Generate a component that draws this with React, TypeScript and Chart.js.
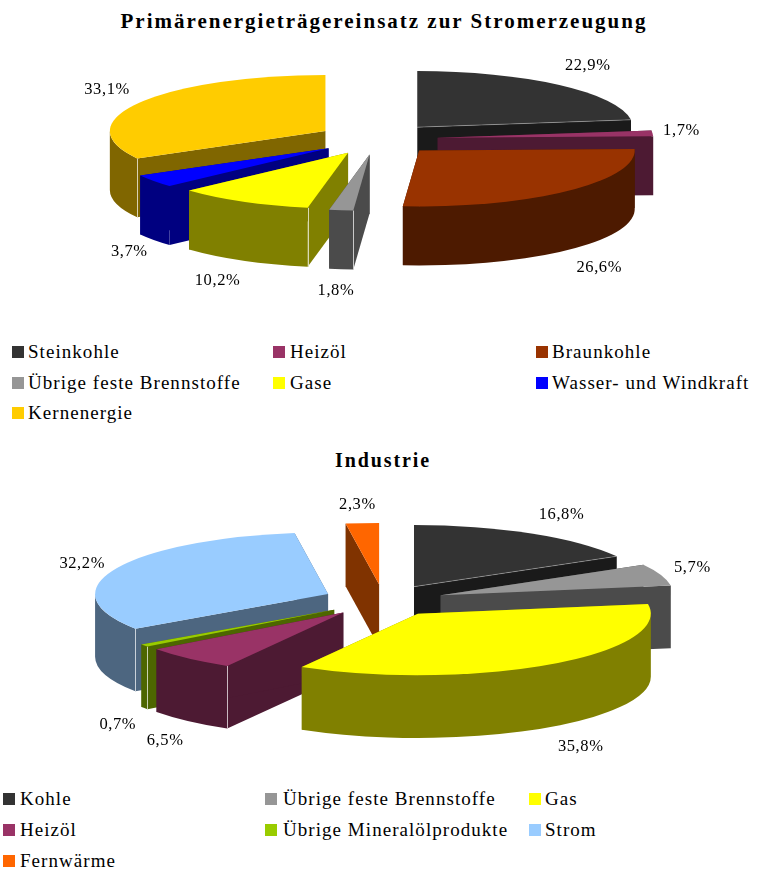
import React, { useEffect, useRef } from "react";
import { Chart, registerables } from "chart.js";

Chart.register(...registerables);

const powerCategories = ["Steinkohle", "Heizöl", "Braunkohle", "Übrige feste Brennstoffe", "Gase", "Wasser- und Windkraft", "Kernenergie"];
const powerValues = [22.9, 1.7, 26.6, 1.8, 10.2, 3.7, 33.1];
const powerColors = ["#333333", "#993366", "#993300", "#969696", "#ffff00", "#0000ff", "#ffcc00"];

const industryCategories = ["Kohle", "Übrige feste Brennstoffe", "Gas", "Heizöl", "Übrige Mineralölprodukte", "Strom", "Fernwärme"];
const industryValues = [16.8, 5.7, 35.8, 6.5, 0.7, 32.2, 2.3];
const industryColors = ["#333333", "#969696", "#ffff00", "#993366", "#99cc00", "#99ccff", "#ff6600"];

const serif = '"Liberation Serif", serif';

const halve = (hex: string) => {
  const n = parseInt(hex.slice(1), 16);
  const c = [(n >> 16) & 255, (n >> 8) & 255, n & 255].map((v) => Math.round(v / 2));
  return `rgb(${c[0]},${c[1]},${c[2]})`;
};

const lighten = (hex: string) => {
  const n = parseInt(hex.slice(1), 16);
  const c = [(n >> 16) & 255, (n >> 8) & 255, n & 255].map((v) => Math.round(v / 2 + (255 - v / 2) * 0.7));
  return `rgb(${c[0]},${c[1]},${c[2]})`;
};

// Draws the pie's arcs as tilted, extruded, exploded wedges with outside value labels.
const pie3d = {
  id: "pie3d",
  beforeDatasetsDraw(chart: any, _args: any, opts: any) {
    const { ctx } = chart;
    const arcs = chart.getDatasetMeta(0).data;
    const values = chart.data.datasets[0].data;
    const geo = arcs.map((el: any, i: number) => {
      const p = el.getProps(["x", "y", "startAngle", "endAngle", "outerRadius"], true);
      const rx = p.outerRadius * opts.scaleX;
      const ry = p.outerRadius * opts.scaleY;
      const mid = (p.startAngle + p.endAngle) / 2;
      const ax = p.x + Math.cos(mid) * rx * opts.explode;
      const ay = p.y + Math.sin(mid) * ry * opts.explode;
      return { i, el, rx, ry, mid, ax, ay, start: p.startAngle, end: p.endAngle, depth: p.outerRadius * opts.depth };
    });
    const order = [...geo].sort((a: any, b: any) => a.ay - b.ay);

    for (const s of order) {
      const face = s.el.options.backgroundColor as string;
      const wall = halve(face);
      ctx.save();
      ctx.fillStyle = wall;
      // radial cut faces
      for (const ang of [s.start, s.end]) {
        const ex = s.ax + Math.cos(ang) * s.rx;
        const ey = s.ay + Math.sin(ang) * s.ry;
        ctx.beginPath();
        ctx.moveTo(s.ax, s.ay);
        ctx.lineTo(ex, ey);
        ctx.lineTo(ex, ey + s.depth);
        ctx.lineTo(s.ax, s.ay + s.depth);
        ctx.closePath();
        ctx.fill();
      }
      // rim, only on the half of the ellipse that faces the viewer
      const from = Math.max(s.start, 0);
      const to = Math.min(s.end, Math.PI);
      if (to > from) {
        ctx.beginPath();
        ctx.ellipse(s.ax, s.ay, s.rx, s.ry, 0, from, to);
        ctx.ellipse(s.ax, s.ay + s.depth, s.rx, s.ry, 0, to, from, true);
        ctx.closePath();
        ctx.fill();
      }
      // light edge where the rim meets the first cut face
      if (s.start > Math.PI / 2 && s.start < Math.PI && !opts.plainCorners.includes(s.i)) {
        const ex = s.ax + Math.cos(s.start) * s.rx;
        const ey = s.ay + Math.sin(s.start) * s.ry;
        ctx.strokeStyle = lighten(face);
        ctx.lineWidth = 1;
        ctx.beginPath();
        ctx.moveTo(Math.round(ex) + 0.5, ey);
        ctx.lineTo(Math.round(ex) + 0.5, ey + s.depth);
        ctx.stroke();
      }
      // top face
      ctx.fillStyle = face;
      ctx.beginPath();
      ctx.moveTo(s.ax, s.ay);
      ctx.ellipse(s.ax, s.ay, s.rx, s.ry, 0, s.start, s.end);
      ctx.closePath();
      ctx.fill();
      // faint highlight along the front cut edge of the dark wedge
      if (opts.litEdges.includes(s.i)) {
        ctx.strokeStyle = "rgba(255,255,255,0.3)";
        ctx.lineWidth = 1;
        ctx.beginPath();
        ctx.moveTo(s.ax, s.ay);
        ctx.lineTo(s.ax + Math.cos(s.end) * s.rx, s.ay + Math.sin(s.end) * s.ry);
        ctx.stroke();
      }
      ctx.restore();
    }

    // value labels just outside each wedge
    ctx.save();
    ctx.font = opts.labelFont;
    ctx.letterSpacing = opts.labelSpacing;
    ctx.fillStyle = "#000";
    ctx.textAlign = "center";
    ctx.textBaseline = "middle";
    for (const s of geo) {
      const c = Math.cos(s.mid);
      const sn = Math.sin(s.mid);
      const nudge = opts.labelNudge[s.i];
      const x = s.ax + c * (s.rx + 40) + nudge[0];
      const y = s.ay + sn * (s.ry + 22) + (sn > 0 ? s.depth : 0) + nudge[1] + 1.5;
      ctx.fillText(values[s.i].toFixed(1).replace(".", ",") + "%", x, y);
    }
    ctx.restore();
    return false;
  },
};

function Pie3D({ top, height, values, labels, colors, padding, view }: any) {
  const ref = useRef<HTMLCanvasElement>(null);
  useEffect(() => {
    const chart = new Chart(ref.current as HTMLCanvasElement, {
      type: "pie",
      data: { labels, datasets: [{ data: values, backgroundColor: colors, borderWidth: 0 }] },
      plugins: [pie3d],
      options: {
        animation: false,
        responsive: false,
        layout: { padding },
        plugins: { legend: { display: false }, title: { display: false }, tooltip: { enabled: false }, pie3d: view },
      } as any,
    });
    return () => chart.destroy();
  }, []);
  return <canvas ref={ref} width={760} height={height} style={{ position: "absolute", left: 0, top, width: 760, height }} />;
}

function Legend({ labels, colors, columns, swatches, rows, textSize, spacing }: any) {
  return (
    <>
      {labels.map((label: string, i: number) => {
        const col = i % 3;
        const row = rows[Math.floor(i / 3)];
        return (
          <React.Fragment key={label}>
            <div style={{ position: "absolute", left: swatches[col], top: row - 6, width: 12, height: 12, background: colors[i] }} />
            <div
              style={{
                position: "absolute",
                left: columns[col],
                top: row - 12,
                height: 24,
                lineHeight: "24px",
                whiteSpace: "nowrap",
                fontFamily: serif,
                fontSize: textSize,
                letterSpacing: spacing,
                color: "#000",
              }}
            >
              {label}
            </div>
          </React.Fragment>
        );
      })}
    </>
  );
}

const titleStyle: React.CSSProperties = {
  position: "absolute",
  left: 0,
  width: 760,
  textAlign: "center",
  whiteSpace: "nowrap",
  fontFamily: serif,
  fontWeight: 700,
  lineHeight: "24px",
  color: "#000",
};

export default function App() {
  return (
    <div style={{ position: "absolute", left: 0, top: 0, width: 760, height: 872, overflow: "hidden", background: "#fff" }}>
      <div style={{ ...titleStyle, top: 9, paddingLeft: 8, boxSizing: "border-box", fontSize: 21, letterSpacing: "2px" }}>
        Primärenergieträgereinsatz zur Stromerzeugung
      </div>
      <Pie3D
        top={0}
        height={340}
        values={powerValues}
        labels={powerCategories}
        colors={powerColors}
        padding={{ left: 267.5, right: 272.5, top: 29, bottom: 91 }}
        view={{
          scaleX: 1.96,
          scaleY: 0.51,
          depth: 0.536,
          explode: 0.28,
          plainCorners: [5],
          litEdges: [0],
          labelFont: `16.5px ${serif}`,
          labelSpacing: "0.6px",
          labelNudge: [[2, -4.5], [-11, -2], [4, 0], [0, -2], [-6, -1], [8, -3], [2, -3]],
        }}
      />
      <Legend
        labels={powerCategories}
        colors={powerColors}
        columns={[28, 290, 552]}
        swatches={[12, 273, 536]}
        rows={[352, 383, 413]}
        textSize={19}
        spacing="1.05px"
      />
      <div style={{ ...titleStyle, top: 448, paddingLeft: 6, boxSizing: "border-box", fontSize: 20, letterSpacing: "1.9px" }}>Industrie</div>
      <Pie3D
        top={440}
        height={340}
        values={industryValues}
        labels={industryCategories}
        colors={industryColors}
        padding={{ left: 273.5, right: 266.5, top: 50.5, bottom: 69.5 }}
        view={{
          scaleX: 2.118,
          scaleY: 0.56,
          depth: 0.57,
          explode: 0.26,
          plainCorners: [],
          litEdges: [0],
          labelFont: `16.5px ${serif}`,
          labelSpacing: "0.6px",
          labelNudge: [[10, -1], [-6, -1], [8, 0], [3, 1], [6, 2], [4, 2], [-2, 2]],
        }}
      />
      <Legend
        labels={industryCategories}
        colors={industryColors}
        columns={[20, 283, 545]}
        swatches={[3, 265, 529]}
        rows={[799, 830, 861]}
        textSize={19}
        spacing="1.05px"
      />
    </div>
  );
}
